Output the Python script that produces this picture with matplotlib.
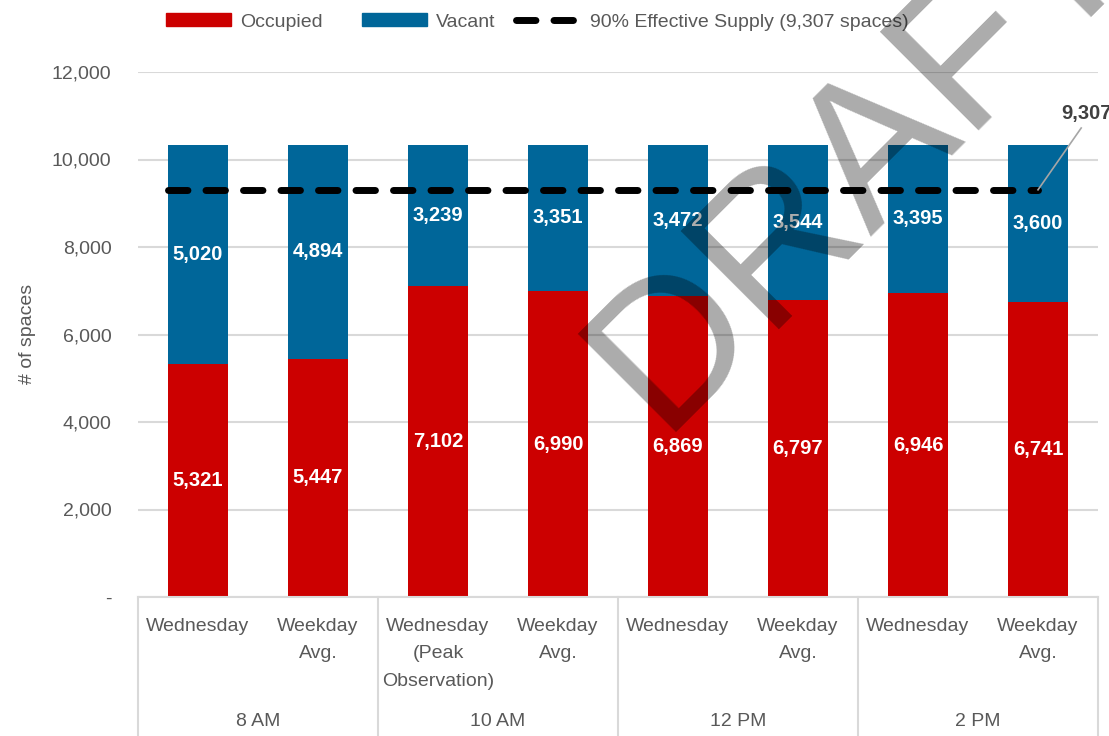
import matplotlib.pyplot as plt
from matplotlib.patches import Patch
from matplotlib.lines import Line2D
from matplotlib.transforms import blended_transform_factory

plt.rcParams['font.family'] = ['Liberation Sans', 'DejaVu Sans']

# data
bar_labels = ["Wednesday", "Weekday\nAvg.", "Wednesday\n(Peak\nObservation)", "Weekday\nAvg.",
              "Wednesday", "Weekday\nAvg.", "Wednesday", "Weekday\nAvg."]
time_groups = ["8 AM", "10 AM", "12 PM", "2 PM"]
occupied = [5321, 5447, 7102, 6990, 6869, 6797, 6946, 6741]
vacant = [5020, 4894, 3239, 3351, 3472, 3544, 3395, 3600]
effective_supply = 9307

red = "#CC0000"
blue = "#006699"
gray_text = "#595959"
dash = (0, (2.8, 2.6))

fig = plt.figure(figsize=(11.09, 7.36), dpi=100)
ax = fig.add_axes([138 / 1109, 1 - 597 / 736, 960 / 1109, 525 / 736])

x = list(range(len(occupied)))
ax.bar(x, occupied, width=0.5, color=red, zorder=2)
ax.bar(x, vacant, width=0.5, bottom=occupied, color=blue, zorder=2)

# value labels
for i in x:
    ax.text(i, occupied[i] / 2, f"{occupied[i]:,}", ha="center", va="center",
            color="white", fontsize=14.5, fontweight="bold", zorder=4)
    ax.text(i, occupied[i] + vacant[i] / 2, f"{vacant[i]:,}", ha="center", va="center",
            color="white", fontsize=14.5, fontweight="bold", zorder=4)

# effective supply line
ax.plot([-0.25, x[-1]], [effective_supply, effective_supply], color="black", lw=5,
        linestyle=dash, dash_capstyle="round", zorder=3)
ax.plot([x[-1], 7.36], [effective_supply, 10720], color="#a6a6a6", lw=1.2, zorder=3,
        clip_on=False)
ax.text(7.4, 11050, f"{effective_supply:,}", ha="center", va="center", fontsize=14.5,
        fontweight="bold", color="#404040")

ax.set_xlim(-0.5, 7.5)
ax.set_ylim(0, 12000)
ax.set_yticks(range(0, 12001, 2000))
ax.set_yticklabels(["-"] + [f"{v:,}" for v in range(2000, 12001, 2000)])
ax.tick_params(axis="y", length=0, labelsize=14, labelcolor=gray_text, pad=19)
ax.grid(axis="y", color="#d9d9d9", lw=1.5, zorder=0)
ax.set_xticks([])
for s in ["top", "right", "left"]:
    ax.spines[s].set_visible(False)
ax.spines["bottom"].set_color("#d9d9d9")
ax.spines["bottom"].set_linewidth(1.5)
fig.text(28 / 1109, 1 - 334 / 736, "# of spaces", rotation=90, ha="center", va="center",
         fontsize=14, color=gray_text)

# hierarchical category axis
trans = blended_transform_factory(ax.transData, ax.transAxes)
for i, lab in enumerate(bar_labels):
    ax.text(i, -0.04, lab, transform=trans, ha="center", va="top", fontsize=14,
            color=gray_text, linespacing=1.8)
for g, lab in enumerate(time_groups):
    ax.text(2 * g + 0.5, -0.238, lab, transform=trans, ha="center", va="center",
            fontsize=14, color=gray_text)
for b in [-0.5, 1.5, 3.5, 5.5, 7.5]:
    ax.plot([b, b], [0, -0.27], transform=trans, color="#d9d9d9", lw=1.5, clip_on=False)

# legend, one entry each so they sit where the reference has them
entries = [
    (Patch(color=red, label="Occupied"), 166),
    (Patch(color=blue, label="Vacant"), 362),
    (Line2D([0], [0], color="black", lw=5, linestyle=dash, dash_capstyle="round",
            label="90% Effective Supply (9,307 spaces)"), 516),
]
for h, left in entries:
    leg = fig.legend(handles=[h], loc="center left", bbox_to_anchor=(left / 1109, 1 - 22 / 736),
                     frameon=False, fontsize=14, handlelength=3.35, handleheight=0.6,
                     handletextpad=0.45, borderpad=0, borderaxespad=0)
    for t in leg.get_texts():
        t.set_color(gray_text)

# watermark
fig.text(660 / 1109, 1 - 433 / 736, "DRAFT", rotation=45, rotation_mode="anchor",
         ha="left", va="baseline", fontsize=146, color="black", alpha=0.33,
         family=["Liberation Sans", "DejaVu Sans"], zorder=10)

fig.savefig("out.png", dpi=100)
